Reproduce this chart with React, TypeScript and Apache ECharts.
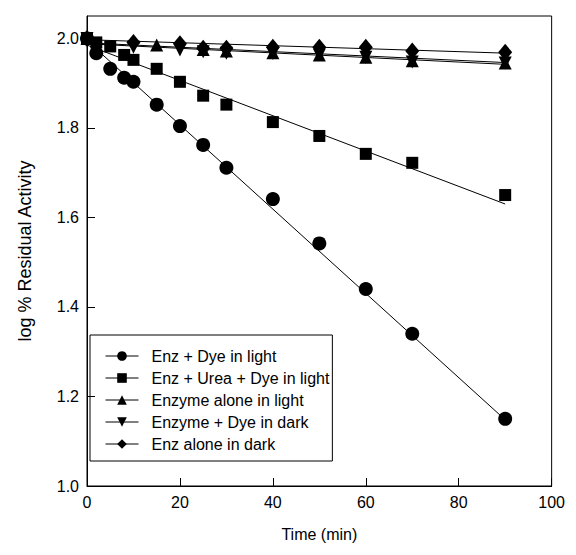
import React, { useEffect, useRef } from "react";
import * as echarts from "echarts";

const seriesNames = [
  "Enz + Dye in light",
  "Enz + Urea + Dye in light",
  "Enzyme alone in light",
  "Enzyme + Dye in dark",
  "Enz alone in dark",
];

const circleTimes = [0, 2, 5, 8, 10, 15, 20, 25, 30, 40, 50, 60, 70, 90];
const circleValues = [2.0, 1.967, 1.932, 1.912, 1.903, 1.852, 1.804, 1.762, 1.711, 1.641, 1.542, 1.44, 1.34, 1.15];

const squareTimes = [0, 2, 5, 8, 10, 15, 20, 25, 30, 40, 50, 60, 70, 90];
const squareValues = [2.0, 1.991, 1.982, 1.963, 1.952, 1.932, 1.903, 1.872, 1.852, 1.813, 1.782, 1.742, 1.722, 1.65];

const triUpTimes = [0, 15, 25, 30, 40, 50, 60, 70, 90];
const triUpValues = [2.0, 1.985, 1.975, 1.972, 1.968, 1.963, 1.958, 1.95, 1.945];

const triDownTimes = [0, 10, 20, 25, 30, 40, 50, 60, 70, 90];
const triDownValues = [2.0, 1.98, 1.974, 1.97, 1.967, 1.966, 1.963, 1.958, 1.947, 1.945];

const diamondTimes = [0, 10, 20, 25, 30, 40, 50, 60, 70, 90];
const diamondValues = [2.0, 1.991, 1.988, 1.978, 1.978, 1.98, 1.98, 1.98, 1.972, 1.969];

// fitted regression lines: [start, end]
const fitTimes = [0, 90];
const circleFit = [1.995, 1.148];
const squareFit = [1.985, 1.63];
const triUpFit = [1.99, 1.946];
const triDownFit = [1.988, 1.942];
const diamondFit = [1.997, 1.967];

const xTicks = [0, 20, 40, 60, 80, 100];
const yTicks = [1.0, 1.2, 1.4, 1.6, 1.8, 2.0];

const downTri = "path://M0,0 L10,0 L5,9 Z";

export default function App() {
  const ref = useRef<HTMLDivElement>(null);
  useEffect(() => {
    if (!ref.current) return;
    const chart = echarts.init(ref.current, null, { renderer: "svg" });
    const font = "Liberation Sans, Arial, sans-serif";
    const pair = (ts: number[], vs: number[]) => ts.map((t, i) => [t, vs[i]]);
    const groups = [
      { name: seriesNames[0], sym: "circle", size: 14, pts: pair(circleTimes, circleValues), fit: circleFit },
      { name: seriesNames[1], sym: "rect", size: 12, pts: pair(squareTimes, squareValues), fit: squareFit },
      { name: seriesNames[2], sym: "triangle", size: 13, pts: pair(triUpTimes, triUpValues), fit: triUpFit },
      { name: seriesNames[3], sym: downTri, size: 13, pts: pair(triDownTimes, triDownValues), fit: triDownFit },
      { name: seriesNames[4], sym: "diamond", size: [14, 17], pts: pair(diamondTimes, diamondValues), fit: diamondFit },
    ];
    const lineSeries = groups.map((g) => ({
      type: "line",
      name: g.name,
      data: pair(fitTimes, g.fit),
      symbol: g.sym,
      symbolSize: 10,
      showSymbol: false,
      color: "#000",
      lineStyle: { color: "#000", width: 1 },
      z: 2,
    }));
    const scatterSeries = groups.map((g) => ({
      type: "scatter",
      name: g.name,
      data: g.pts,
      symbol: g.sym,
      symbolSize: g.size,
      itemStyle: { color: "#000", opacity: 1 },
      z: 3,
    }));
    chart.setOption({
      animation: false,
      backgroundColor: "#fff",
      textStyle: { fontFamily: font },
      grid: {
        left: 70,
        top: 8,
        width: 480,
        height: 476,
        show: true,
        borderColor: "#000",
        borderWidth: 1,
        backgroundColor: "transparent",
      },
      legend: {
        data: seriesNames,
        orient: "vertical",
        left: 82,
        top: 327,
        borderColor: "#000",
        borderWidth: 1,
        padding: [13, 3, 9, 15],
        itemWidth: 33,
        itemHeight: 12,
        itemGap: 6,
        selectedMode: false,
        lineStyle: { color: "#000", width: 1 },
        itemStyle: { color: "#000" },
        textStyle: { fontFamily: font, fontSize: 16, color: "#000", lineHeight: 15, padding: [0, 0, 0, 8] },
      },
      xAxis: {
        type: "value",
        min: 0,
        max: 100,
        interval: 20,
        name: "Time (min)",
        nameLocation: "middle",
        nameGap: 40,
        nameTextStyle: { fontFamily: font, fontSize: 16, color: "#000" },
        axisLine: { lineStyle: { color: "#000", width: 1 } },
        axisTick: { inside: true, length: 8, lineStyle: { color: "#000" }, customValues: xTicks },
        axisLabel: { fontFamily: font, fontSize: 16, color: "#000", margin: 8, customValues: xTicks },
        splitLine: { show: false },
      },
      yAxis: {
        type: "value",
        min: 1.0,
        max: 2.05,
        name: "log % Residual Activity",
        nameLocation: "middle",
        nameGap: 53,
        nameTextStyle: { fontFamily: font, fontSize: 18, color: "#000" },
        axisLine: { lineStyle: { color: "#000", width: 1 } },
        axisTick: { inside: true, length: 8, lineStyle: { color: "#000" }, customValues: yTicks },
        axisLabel: {
          fontFamily: font,
          fontSize: 16,
          color: "#000",
          margin: 8,
          customValues: yTicks,
          formatter: (v: number) => v.toFixed(1),
        },
        splitLine: { show: false },
      },
      series: [...lineSeries, ...scatterSeries],
    });
    return () => chart.dispose();
  }, []);
  return <div ref={ref} style={{ width: 560, height: 539 }} />;
}
